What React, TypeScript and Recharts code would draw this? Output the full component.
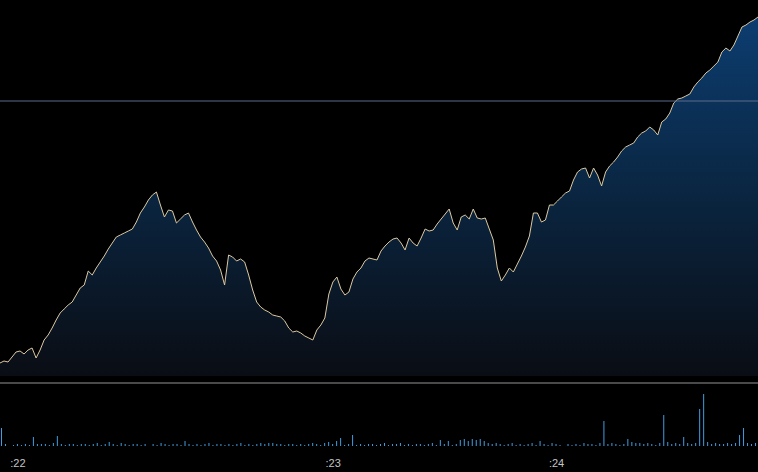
import {
  AreaChart,
  Area,
  BarChart,
  Bar,
  XAxis,
  YAxis,
  ReferenceLine,
} from "recharts";

// last price per tick, top to bottom of the session run
const prices = [
  51.3, 51.5, 51.4, 51.9, 52.4, 52.5, 52.2, 52.6, 52.8, 51.8,
  52.6, 53.6, 54.1, 54.8, 55.6, 56.3, 56.7, 57.1, 57.4, 58.1,
  58.8, 59.1, 60.5, 60.1, 60.8, 61.4, 62.0, 62.7, 63.3, 63.9,
  64.1, 64.3, 64.5, 64.7, 65.4, 66.3, 66.9, 67.6, 68.1, 68.4,
  67.1, 65.9, 66.6, 66.5, 65.3, 65.7, 66.1, 66.3, 65.4, 64.6,
  63.9, 63.4, 62.8, 62.0, 61.5, 60.6, 59.1, 62.1, 61.9, 61.5,
  61.7, 61.4, 60.1, 58.6, 57.4, 56.9, 56.6, 56.4, 56.1, 56.0,
  55.9, 55.5, 54.8, 54.4, 54.5, 54.3, 54.0, 53.8, 53.6, 54.6,
  55.1, 55.8, 58.2, 59.4, 59.9, 58.7, 58.1, 58.4, 59.7, 60.4,
  60.8, 61.5, 61.8, 61.7, 61.6, 62.5, 63.0, 63.4, 63.7, 63.8,
  63.3, 62.6, 63.8, 63.3, 63.0, 63.8, 64.7, 64.5, 64.6, 65.2,
  65.7, 66.2, 66.7, 65.3, 64.6, 65.9, 66.1, 65.7, 66.7, 65.8,
  65.7, 65.8, 64.7, 63.6, 60.8, 59.5, 60.1, 60.8, 60.4, 61.2,
  62.0, 62.9, 64.0, 66.3, 66.3, 65.4, 65.6, 67.1, 67.1, 67.5,
  67.9, 68.3, 68.5, 69.6, 70.4, 70.7, 70.8, 69.8, 70.8, 70.1,
  69.0, 70.4, 71.0, 71.4, 71.9, 72.5, 72.9, 73.1, 73.3, 73.9,
  74.3, 74.5, 74.9, 74.6, 74.1, 75.4, 75.7, 76.3, 77.3, 77.7,
  77.8, 78.0, 78.2, 78.9, 79.4, 79.8, 80.3, 80.6, 81.0, 81.4,
  82.4, 82.8, 82.5, 83.1, 84.0, 84.9, 85.1, 85.4, 85.6, 85.9,
];

const volumes = [
  1800, 200, 0, 100, 200, 100, 200, 100, 900, 200,
  200, 200, 100, 300, 1000, 200, 100, 200, 200, 100,
  200, 200, 100, 200, 300, 100, 200, 400, 200, 100,
  300, 200, 100, 200, 200, 100, 200, 0, 200, 100,
  300, 200, 100, 200, 200, 100, 500, 200, 100, 200,
  100, 200, 300, 100, 200, 200, 100, 200, 100, 200,
  300, 100, 200, 100, 200, 300, 200, 300, 300, 200,
  200, 100, 200, 200, 100, 200, 100, 200, 300, 200,
  100, 300, 400, 200, 500, 800, 100, 200, 1100, 100,
  200, 100, 200, 200, 100, 200, 300, 100, 200, 200,
  300, 100, 200, 100, 200, 200, 100, 200, 300, 100,
  600, 200, 500, 100, 200, 600, 700, 500, 700, 600,
  700, 500, 300, 200, 300, 200, 100, 200, 300, 100,
  200, 100, 200, 300, 100, 500, 200, 100, 300, 200,
  100, 0, 200, 100, 200, 100, 300, 200, 200, 100,
  300, 2500, 200, 300, 200, 100, 200, 700, 400, 300,
  300, 200, 300, 200, 100, 300, 3100, 400, 200, 300,
  200, 900, 300, 200, 300, 3700, 5200, 400, 200, 300,
  200, 200, 300, 200, 300, 1100, 1800, 300, 200, 300,
];

const tickLabels: Record<number, string> = { 4: ":22", 83: ":23", 139: ":24" };

const prevClose = 77.5;

const data = prices.map((p, i) => ({ i, price: p, volume: volumes[i] }));

const TimeTick = (props: any) => {
  const label = tickLabels[props.payload.value];
  if (!label) return <g />;
  return (
    <text
      x={props.x}
      y={props.y}
      dy="0.71em"
      textAnchor="middle"
      fill="#c4c4c4"
      fontSize={11}
      fontFamily="Liberation Sans, Arial, sans-serif"
    >
      {label}
    </text>
  );
};

export default function App() {
  return (
    <div
      style={{
        position: "absolute",
        top: 0,
        left: 0,
        width: 758,
        height: 472,
        background: "#000",
        overflow: "hidden",
      }}
    >
      <AreaChart
        width={758}
        height={376}
        data={data}
        margin={{ top: 0, right: 0, bottom: 0, left: 0 }}
      >
        <defs>
          <linearGradient id="priceFill" x1="0" y1="0" x2="0" y2="1">
            <stop offset="0%" stopColor="#0c3d70" />
            <stop offset="50%" stopColor="#0a2540" />
            <stop offset="100%" stopColor="#0a0d14" />
          </linearGradient>
        </defs>
        <XAxis dataKey="i" hide />
        <YAxis hide domain={[50, 87.6]} />
        <Area
          type="linear"
          dataKey="price"
          stroke="#dcc9a0"
          strokeWidth={1}
          fill="url(#priceFill)"
          fillOpacity={1}
          isAnimationActive={false}
          dot={false}
          activeDot={false}
        />
        <ReferenceLine y={prevClose} stroke="#5c6b8c" strokeWidth={1} />
      </AreaChart>
      <div
        style={{
          position: "absolute",
          top: 382,
          left: 0,
          width: 758,
          height: 2,
          background: "#4a4a4a",
        }}
      />
      <div style={{ position: "absolute", top: 384, left: 0 }}>
        <BarChart
          width={758}
          height={88}
          data={data}
          margin={{ top: 0, right: 0, bottom: 0, left: 0 }}
          barCategoryGap={0}
        >
          <XAxis
            dataKey="i"
            height={26}
            axisLine={false}
            tickLine={false}
            tickSize={0}
            tickMargin={13}
            interval={0}
            tick={TimeTick}
          />
          <YAxis hide domain={[0, 6200]} />
          <Bar
            dataKey="volume"
            fill="#409ddf"
            barSize={1}
            isAnimationActive={false}
          />
        </BarChart>
      </div>
    </div>
  );
}
